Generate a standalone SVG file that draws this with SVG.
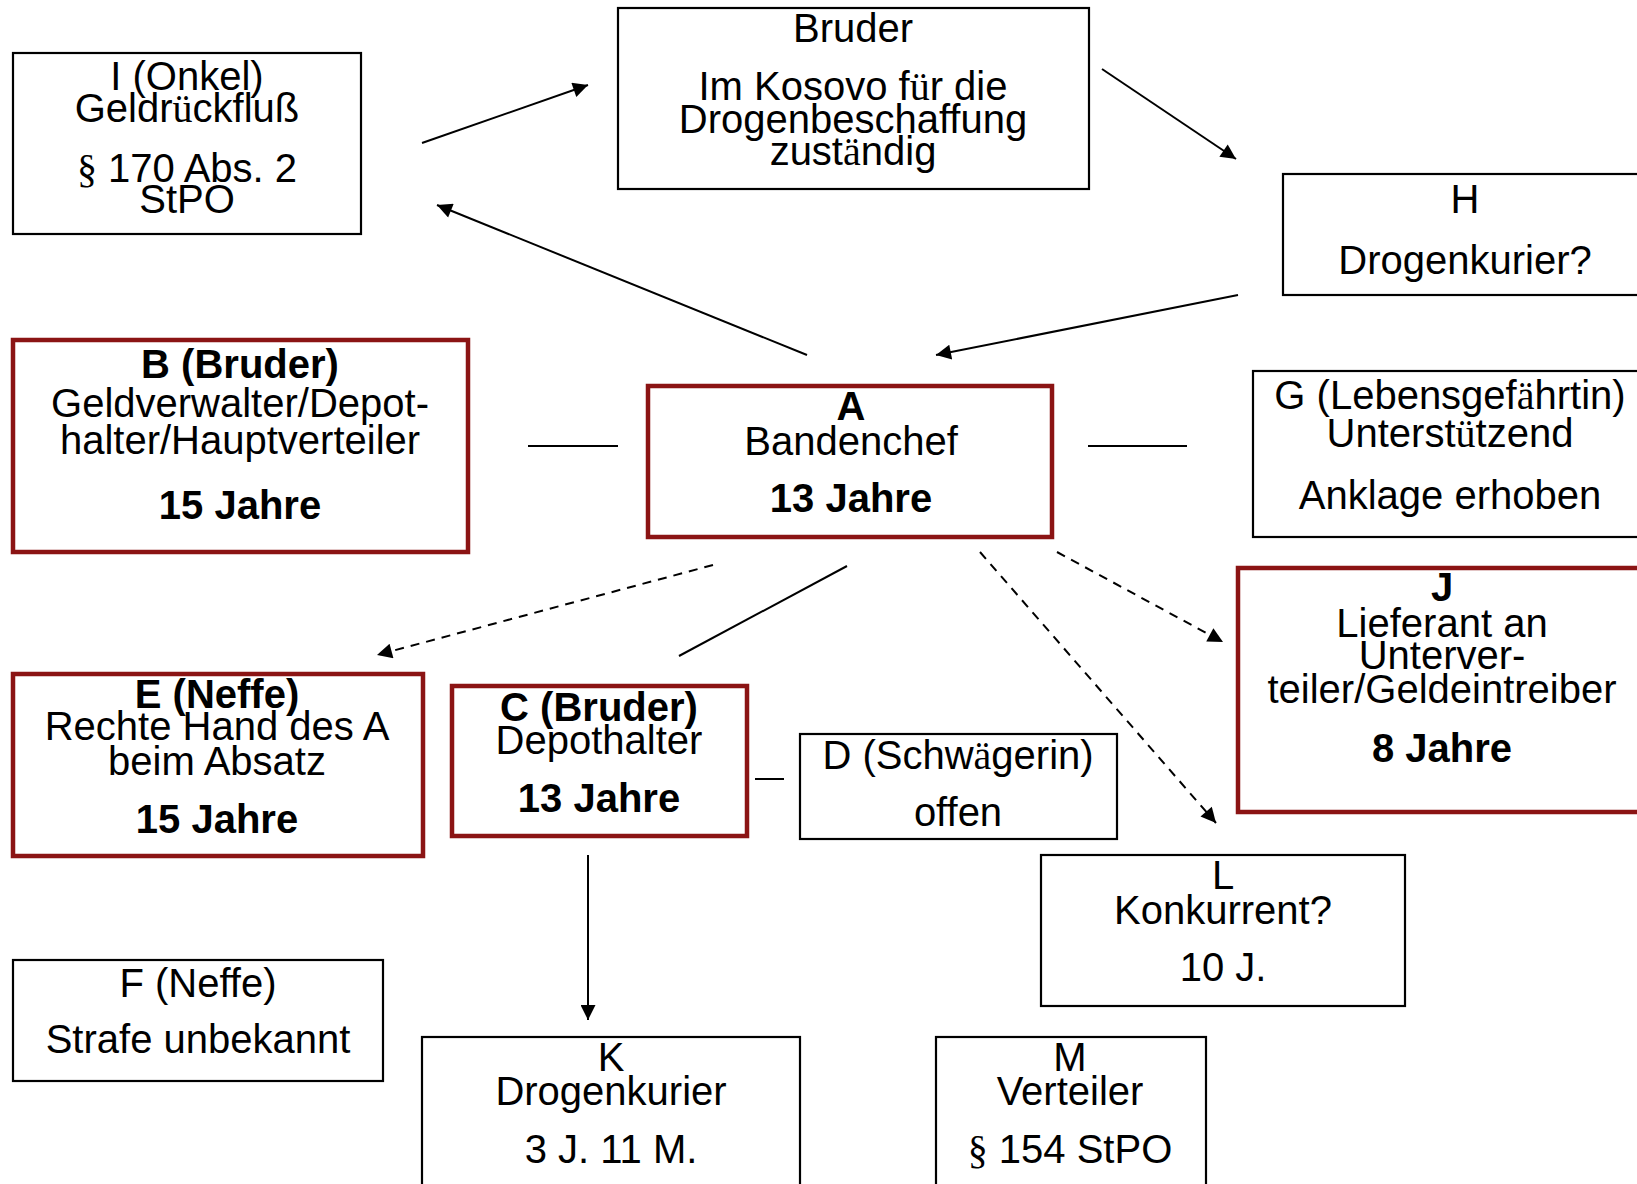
<svg xmlns="http://www.w3.org/2000/svg" width="1637" height="1184" viewBox="0 0 1637 1184">
<defs>
<marker id="ah" viewBox="0 0 10 10" refX="10" refY="5" markerWidth="20" markerHeight="15" markerUnits="userSpaceOnUse" orient="auto">
<path d="M0,0 L10,5 L0,10 z" fill="#000"/>
</marker>
<style>
.b{fill:#fff;stroke:#000;stroke-width:2.2}
.r{fill:#fff;stroke:#8b1414;stroke-width:4.5}
text{font-family:"Liberation Sans",Arial,sans-serif;font-size:40px;fill:#000;text-anchor:middle}
.bd{font-weight:bold}
.s{font-family:"Liberation Serif","Times New Roman",serif}
.c{stroke:#000;stroke-width:2;fill:none}
.d{stroke-dasharray:9 7}
</style>
</defs>
<rect width="1637" height="1184" fill="#fff"/>
<g id="connectors">
<line class="c" x1="422" y1="143" x2="588" y2="85" marker-end="url(#ah)"/>
<line class="c" x1="807" y1="355" x2="437" y2="205" marker-end="url(#ah)"/>
<line class="c" x1="1102" y1="69" x2="1236" y2="159" marker-end="url(#ah)"/>
<line class="c" x1="1238" y1="295" x2="936" y2="355" marker-end="url(#ah)"/>
<line class="c" x1="528" y1="446" x2="618" y2="446"/>
<line class="c" x1="1088" y1="446" x2="1187" y2="446"/>
<line class="c d" x1="713" y1="565" x2="377" y2="655" marker-end="url(#ah)"/>
<line class="c" x1="847" y1="566" x2="679" y2="656"/>
<line class="c d" x1="980" y1="552" x2="1216" y2="823" marker-end="url(#ah)"/>
<line class="c d" x1="1057" y1="552" x2="1223" y2="642" marker-end="url(#ah)"/>
<line class="c" x1="755" y1="779" x2="784" y2="779"/>
<line class="c" x1="588" y1="855" x2="588" y2="1020" marker-end="url(#ah)"/>
</g>
<g id="node-I">
<rect class="b" x="13" y="53" width="348" height="181"/>
<text x="187" y="90">I (Onkel)</text>
<text x="187" y="122">Geldr<tspan class="s">ü</tspan>ckfluß</text>
<text x="187" y="182"><tspan class="s">§</tspan> 170 Abs. 2</text>
<text x="187" y="213">StPO</text>
</g>
<g id="node-Bruder">
<rect class="b" x="618" y="8" width="471" height="181"/>
<text x="853" y="42">Bruder</text>
<text x="853" y="100">Im Kosovo f<tspan class="s">ü</tspan>r die</text>
<text x="853" y="133">Drogenbeschaffung</text>
<text x="853" y="165">zust<tspan class="s">ä</tspan>ndig</text>
</g>
<g id="node-H">
<rect class="b" x="1283" y="174" width="370" height="121"/>
<text x="1465" y="213">H</text>
<text x="1465" y="274">Drogenkurier?</text>
</g>
<g id="node-B">
<rect class="r" x="13" y="340" width="455" height="212"/>
<text class="bd" x="240" y="378">B (Bruder)</text>
<text x="240" y="417">Geldverwalter/Depot-</text>
<text x="240" y="454">halter/Hauptverteiler</text>
<text class="bd" x="240" y="519">15 Jahre</text>
</g>
<g id="node-A">
<rect class="r" x="648" y="386" width="404" height="151"/>
<text class="bd" x="851" y="420">A</text>
<text x="851" y="455">Bandenchef</text>
<text class="bd" x="851" y="512">13 Jahre</text>
</g>
<g id="node-G">
<rect class="b" x="1253" y="371" width="400" height="166"/>
<text x="1450" y="409">G (Lebensgef<tspan class="s">ä</tspan>hrtin)</text>
<text x="1450" y="447">Unterst<tspan class="s">ü</tspan>tzend</text>
<text x="1450" y="509">Anklage erhoben</text>
</g>
<g id="node-J">
<rect class="r" x="1238" y="568" width="415" height="244"/>
<text class="bd" x="1442" y="601">J</text>
<text x="1442" y="637">Lieferant an</text>
<text x="1442" y="669">Unterver-</text>
<text x="1442" y="703">teiler/Geldeintreiber</text>
<text class="bd" x="1442" y="762">8 Jahre</text>
</g>
<g id="node-E">
<rect class="r" x="13" y="674" width="410" height="182"/>
<text class="bd" x="217" y="708">E (Neffe)</text>
<text x="217" y="740">Rechte Hand des A</text>
<text x="217" y="775">beim Absatz</text>
<text class="bd" x="217" y="833">15 Jahre</text>
</g>
<g id="node-C">
<rect class="r" x="452" y="686" width="295" height="150"/>
<text class="bd" x="599" y="721">C (Bruder)</text>
<text x="599" y="754">Depothalter</text>
<text class="bd" x="599" y="812">13 Jahre</text>
</g>
<g id="node-D">
<rect class="b" x="800" y="734" width="317" height="105"/>
<text x="958" y="769">D (Schw<tspan class="s">ä</tspan>gerin)</text>
<text x="958" y="826">offen</text>
</g>
<g id="node-L">
<rect class="b" x="1041" y="855" width="364" height="151"/>
<text x="1223" y="889">L</text>
<text x="1223" y="924">Konkurrent?</text>
<text x="1223" y="981">10 J.</text>
</g>
<g id="node-F">
<rect class="b" x="13" y="960" width="370" height="121"/>
<text x="198" y="997">F (Neffe)</text>
<text x="198" y="1053">Strafe unbekannt</text>
</g>
<g id="node-K">
<rect class="b" x="422" y="1037" width="378" height="160"/>
<text x="611" y="1071">K</text>
<text x="611" y="1105">Drogenkurier</text>
<text x="611" y="1163">3 J. 11 M.</text>
</g>
<g id="node-M">
<rect class="b" x="936" y="1037" width="270" height="160"/>
<text x="1070" y="1071">M</text>
<text x="1070" y="1105">Verteiler</text>
<text x="1070" y="1163"><tspan class="s">§</tspan> 154 StPO</text>
</g>
</svg>
